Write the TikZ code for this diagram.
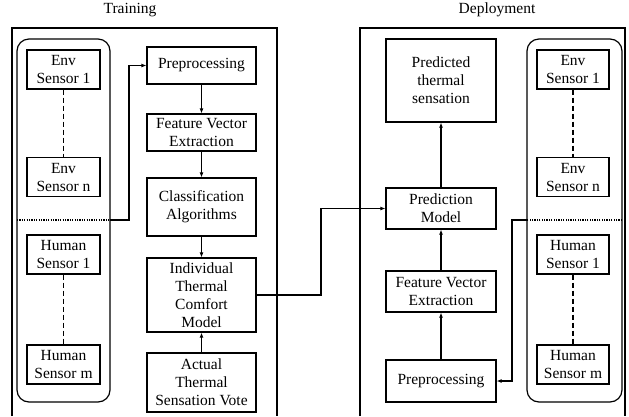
\documentclass[tikz,border=0pt]{standalone}
\usepackage{fontspec}
\setmainfont{Liberation Serif}
\usetikzlibrary{arrows.meta}
\begin{document}
\begin{tikzpicture}[x=1pt,y=-1pt,
  box/.style={draw,line width=1.2pt,align=center,inner sep=1pt,font=\fontsize{15.5}{18}\selectfont},
  sbox/.style={box,minimum width=73pt,minimum height=39pt},
  lbox/.style={box,minimum width=109pt},
  frame/.style={line width=1.2pt},
  grp/.style={draw,line width=1.2pt,rounded corners=12pt},
  dsh/.style={line width=1.2pt,dash pattern=on 5pt off 3pt},
  dot/.style={line width=1.2pt,dash pattern=on 1.2pt off 1.2pt},
  conn/.style={line width=1.2pt,-{Latex[length=5pt,width=4pt]}},
  ttl/.style={font=\fontsize{15.5}{18}\selectfont}]
\useasboundingbox (0,0) rectangle (629,416);
% titles
\node[ttl] (tTrain) at (130,10) {Training};
\node[ttl] (tDep) at (497,10) {Deployment};
% frames
\draw[frame] (12,416) -- (12,28) -- (277,28) -- (277,416);
\draw[frame] (360,416) -- (360,28) -- (625,28) -- (625,416);
% groups
\draw[grp] (17,39) rectangle (110,402);
\draw[grp] (527,39) rectangle (622,402);
% left sensors
\node[sbox] (es1L) at (63.5,69.5) {Env\\Sensor 1};
\node[sbox] (esnL) at (63.5,177) {Env\\Sensor n};
\node[sbox] (hs1L) at (63.5,254.5) {Human\\Sensor 1};
\node[sbox] (hsmL) at (63.5,364.5) {Human\\Sensor m};
\draw[dsh] (es1L) -- (esnL);
\draw[dsh] (hs1L) -- (hsmL);
\coordinate (dL0) at (17,220);
\coordinate (dL1) at (110,220);
\draw[dot] (dL0) -- (dL1);
% left pipeline
\node[lbox,minimum height=37pt] (prepL) at (201.5,65.5) {Preprocessing};
\node[lbox,minimum height=37pt] (fveL) at (201.5,132.5) {Feature Vector\\Extraction};
\node[lbox,minimum height=58pt] (clsL) at (201.5,207) {Classification\\Algorithms};
\node[lbox,minimum height=74pt] (itcm) at (201.5,295) {Individual\\Thermal\\Comfort\\Model};
\node[lbox,minimum height=59pt] (atsv) at (201.5,382.5) {Actual\\Thermal\\Sensation Vote};
\draw[conn] (prepL) -- (fveL);
\draw[conn] (fveL) -- (clsL);
\draw[conn] (clsL) -- (itcm);
\draw[conn] (atsv) -- (itcm);
\coordinate (kL) at (129,65.5);
\draw[conn] (dL1) -| (kL) -- (prepL.west);
% right sensors
\node[sbox,minimum width=72pt] (es1R) at (573,69.5) {Env\\Sensor 1};
\node[sbox,minimum width=72pt] (esnR) at (573,177) {Env\\Sensor n};
\node[sbox,minimum width=72pt] (hs1R) at (573,254.5) {Human\\Sensor 1};
\node[sbox,minimum width=72pt] (hsmR) at (573,364.5) {Human\\Sensor m};
\draw[dsh] (es1R) -- (esnR);
\draw[dsh] (hs1R) -- (hsmR);
\coordinate (dR0) at (622,220);
\coordinate (dR1) at (527,220);
\draw[dot] (dR0) -- (dR1);
% right pipeline
\node[lbox,minimum width=110pt,minimum height=83pt] (pts) at (441,80.5) {Predicted\\thermal\\sensation};
\node[lbox,minimum width=110pt,minimum height=41pt] (pm) at (441,208.5) {Prediction\\Model};
\node[lbox,minimum width=110pt,minimum height=41pt] (fveR) at (441,291.5) {Feature Vector\\Extraction};
\node[lbox,minimum width=110pt,minimum height=42pt] (prepR) at (441,381) {Preprocessing};
\draw[conn] (prepR) -- (fveR);
\draw[conn] (fveR) -- (pm);
\draw[conn] (pm) -- (pts);
\coordinate (kR) at (512,381);
\draw[conn] (dR1) -| (kR) -- (prepR.east);
% cross connector
\coordinate (kc) at (321,295);
\draw[conn] (itcm.east) -- (kc) |- (pm.west);
\end{tikzpicture}
\end{document}
